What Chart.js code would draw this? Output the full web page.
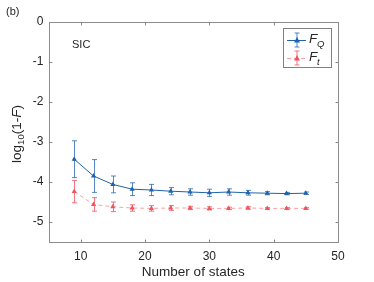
<!DOCTYPE html>
<html><head><meta charset="utf-8">
<script src="https://cdn.jsdelivr.net/npm/chart.js@4.4.1/dist/chart.umd.min.js"></script>
<style>html,body{margin:0;padding:0;background:#fff}#wrap{width:374px;height:282px;position:relative}</style>
</head><body><div id="wrap"><canvas id="c" width="374" height="282"></canvas></div>
<script>
const states = [9,12,15,18,21,24,27,30,33,36,39,42,45];
const fQ    = [-3.43,-3.85,-4.06,-4.18,-4.20,-4.23,-4.25,-4.27,-4.25,-4.27,-4.28,-4.29,-4.28];
const fQErr = [0.46,0.41,0.21,0.16,0.14,0.09,0.08,0.09,0.08,0.06,0.04,0.03,0.03];
const fT    = [-4.24,-4.56,-4.62,-4.65,-4.66,-4.65,-4.65,-4.66,-4.66,-4.65,-4.66,-4.66,-4.66];
const fTErr = [0.28,0.17,0.12,0.08,0.07,0.06,0.04,0.04,0.03,0.03,0.02,0.02,0.02];
const xTicks = [10,20,30,40,50];
const yTicks = [0,-1,-2,-3,-4,-5];

const BLUE = '#1f62ad', BLUE_ERR = 'rgba(31,98,173,0.75)';
const RED = '#f2545f', RED_LINE = 'rgba(242,84,95,0.55)', RED_ERR = 'rgba(242,84,95,0.8)';
const FONT = '"Liberation Sans", Arial, sans-serif';
const TXT = '#262626', AX = '#8c8c8c';

const errPlugin = {
  id: 'err',
  beforeDatasetsDraw(chart) {
    const ctx = chart.ctx, xs = chart.scales.x, ys = chart.scales.y;
    const sets = [[fQ, fQErr, BLUE_ERR], [fT, fTErr, RED_ERR]];
    ctx.save();
    sets.forEach(([v, e, col]) => {
      ctx.strokeStyle = col; ctx.lineWidth = 1;
      states.forEach((s, i) => {
        const x = Math.round(xs.getPixelForValue(s)) + 0.5;
        const t = ys.getPixelForValue(v[i] + e[i]), b = ys.getPixelForValue(v[i] - e[i]);
        ctx.beginPath();
        ctx.moveTo(x, t); ctx.lineTo(x, b);
        ctx.moveTo(x - 2.5, t); ctx.lineTo(x + 2.5, t);
        ctx.moveTo(x - 2.5, b); ctx.lineTo(x + 2.5, b);
        ctx.stroke();
      });
    });
    ctx.restore();
  },
  afterDraw(chart) {
    const ctx = chart.ctx, a = chart.chartArea, xs = chart.scales.x, ys = chart.scales.y;
    ctx.save();
    ctx.strokeStyle = AX; ctx.lineWidth = 1;
    const L = Math.round(a.left) + 0.5, R = Math.round(a.right) + 0.5, T = Math.round(a.top) + 0.5, B = Math.round(a.bottom) + 0.5;
    ctx.strokeRect(L, T, R - L, B - T);
    ctx.beginPath();
    xTicks.forEach(v => {
      const x = Math.round(xs.getPixelForValue(v)) + 0.5;
      ctx.moveTo(x, B); ctx.lineTo(x, B - 3);
      ctx.moveTo(x, T); ctx.lineTo(x, T + 3);
    });
    yTicks.forEach(v => {
      const y = Math.round(ys.getPixelForValue(v)) + 0.5;
      ctx.moveTo(L, y); ctx.lineTo(L + 3, y);
      ctx.moveTo(R, y); ctx.lineTo(R - 3, y);
    });
    ctx.stroke();

    ctx.fillStyle = TXT;
    ctx.textBaseline = 'middle';
    ctx.font = '11px ' + FONT; ctx.textAlign = 'left';
    ctx.fillText('(b)', 6, 12);
    ctx.fillText('SIC', 72, 45);
    ctx.font = '13.5px ' + FONT; ctx.textAlign = 'center';
    ctx.fillText('Number of states', (a.left + a.right) / 2, 272);
    ctx.save();
    ctx.translate(17, 134); ctx.rotate(-Math.PI / 2);
    const parts = [['log', '13.5px ' + FONT, 0], ['10', '9.5px ' + FONT, 4], ['(1-', '13.5px ' + FONT, 0], ['F', 'italic 13.5px ' + FONT, 0], [')', '13.5px ' + FONT, 0]];
    let w = 0;
    parts.forEach(p => { ctx.font = p[1]; w += ctx.measureText(p[0]).width; });
    let cx = -w / 2; ctx.textAlign = 'left';
    parts.forEach(p => { ctx.font = p[1]; ctx.fillText(p[0], cx, p[2]); cx += ctx.measureText(p[0]).width; });
    ctx.restore();

    const lx = 283, ly = 28, lw = 48, lh = 39;
    ctx.fillStyle = '#fff'; ctx.fillRect(lx, ly, lw, lh);
    ctx.strokeStyle = '#808080'; ctx.strokeRect(lx + 0.5, ly + 0.5, lw, lh);
    const rows = [[ly + 12, BLUE, BLUE, BLUE_ERR, [], 'Q'], [ly + 30, RED_LINE, RED, RED_ERR, [4, 3], 't']];
    rows.forEach(([y, lc, mc, ec, dash, sub]) => {
      const x0 = lx + 4, x1 = lx + 23, xm = (x0 + x1) / 2;
      ctx.strokeStyle = lc; ctx.setLineDash(dash); ctx.lineWidth = 1;
      ctx.beginPath(); ctx.moveTo(x0, y + 0.5); ctx.lineTo(x1, y + 0.5); ctx.stroke();
      ctx.setLineDash([]);
      ctx.strokeStyle = ec;
      ctx.beginPath();
      ctx.moveTo(xm + 0.5, y - 7); ctx.lineTo(xm + 0.5, y + 7);
      ctx.moveTo(xm - 2, y - 7); ctx.lineTo(xm + 3, y - 7);
      ctx.moveTo(xm - 2, y + 7); ctx.lineTo(xm + 3, y + 7);
      ctx.stroke();
      ctx.fillStyle = mc;
      ctx.beginPath(); ctx.moveTo(xm + 0.5, y - 3); ctx.lineTo(xm + 3.5, y + 2.5); ctx.lineTo(xm - 2.5, y + 2.5); ctx.closePath(); ctx.fill();
      ctx.fillStyle = TXT; ctx.textAlign = 'left';
      ctx.font = 'italic 13.5px ' + FONT; ctx.fillText('F', lx + 26, y - 1);
      ctx.font = 'italic 9.5px ' + FONT; ctx.fillText(sub, lx + 34, y + 4);
    });
    ctx.restore();
  }
};

new Chart(document.getElementById('c'), {
  type: 'line',
  data: {
    datasets: [
      { label: 'F_Q', data: states.map((s, i) => ({x: s, y: fQ[i]})), borderColor: BLUE, backgroundColor: BLUE,
        borderWidth: 1, pointStyle: 'triangle', pointRadius: 3, pointBorderWidth: 0, tension: 0 },
      { label: 'F_t', data: states.map((s, i) => ({x: s, y: fT[i]})), borderColor: RED_LINE, backgroundColor: RED,
        borderWidth: 1, borderDash: [4, 3], pointStyle: 'triangle', pointRadius: 3, pointBorderWidth: 0, tension: 0 }
    ]
  },
  options: {
    responsive: false, animation: false, events: [],
    layout: { padding: { top: 22, right: 36, left: 0, bottom: 0 } },
    plugins: { legend: { display: false }, tooltip: { enabled: false } },
    scales: {
      x: { type: 'linear', min: 5, max: 50,
        afterBuildTicks: s => { s.ticks = xTicks.map(v => ({value: v})); },
        afterFit: s => { s.height = 40; },
        grid: { display: false, drawTicks: false }, border: { display: false },
        ticks: { color: TXT, font: { family: FONT, size: 12 }, padding: 7, maxRotation: 0 } },
      y: { type: 'linear', min: -5.5, max: 0,
        afterBuildTicks: s => { s.ticks = yTicks.map(v => ({value: v})); },
        afterFit: s => { s.width = 48.5; },
        grid: { display: false, drawTicks: false }, border: { display: false },
        ticks: { color: TXT, font: { family: FONT, size: 12 }, padding: 5 } }
    }
  },
  plugins: [errPlugin]
});
</script></body></html>
